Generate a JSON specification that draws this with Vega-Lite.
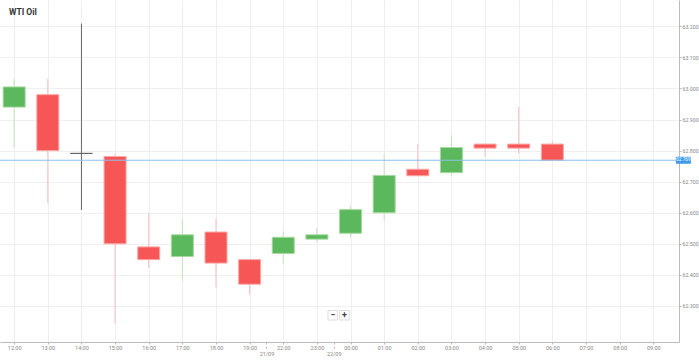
{
  "$schema": "https://vega.github.io/schema/vega-lite/v6.json",
  "width": 679,
  "height": 342,
  "autosize": {"type": "none"},
  "padding": {"left": 0, "top": 0, "right": 20, "bottom": 18},
  "background": "white",
  "config": {"view": {"stroke": null}, "font": "Roboto", "axis": {"labelOverlap": false, "labelFlush": false, "labelBound": false}},
  "title": {"text": "WTI Oil", "anchor": "start", "frame": "group", "orient": "top", "offset": -16, "dx": 9, "fontSize": 8.5, "fontWeight": "bold", "color": "#333", "font": "Roboto"},
  "datasets": {
    "candles": [
      {"i": 0, "t": "12:00", "open": 62.940, "high": 63.031, "low": 62.810, "close": 63.005},
      {"i": 1, "t": "13:00", "open": 62.980, "high": 63.031, "low": 62.631, "close": 62.800},
      {"i": 2, "t": "14:00", "open": 62.791, "high": 63.209, "low": 62.609, "close": 62.791},
      {"i": 3, "t": "15:00", "open": 62.781, "high": 62.790, "low": 62.243, "close": 62.500},
      {"i": 4, "t": "16:00", "open": 62.490, "high": 62.600, "low": 62.422, "close": 62.449},
      {"i": 5, "t": "17:00", "open": 62.459, "high": 62.581, "low": 62.381, "close": 62.529},
      {"i": 6, "t": "18:00", "open": 62.538, "high": 62.581, "low": 62.360, "close": 62.438},
      {"i": 7, "t": "19:00", "open": 62.449, "high": 62.449, "low": 62.336, "close": 62.370},
      {"i": 8, "t": "22:00", "open": 62.469, "high": 62.540, "low": 62.435, "close": 62.521},
      {"i": 9, "t": "23:00", "open": 62.515, "high": 62.550, "low": 62.505, "close": 62.529},
      {"i": 10, "t": "00:00", "open": 62.534, "high": 62.621, "low": 62.521, "close": 62.610},
      {"i": 11, "t": "01:00", "open": 62.600, "high": 62.790, "low": 62.575, "close": 62.720},
      {"i": 12, "t": "02:00", "open": 62.740, "high": 62.821, "low": 62.719, "close": 62.719},
      {"i": 13, "t": "03:00", "open": 62.729, "high": 62.850, "low": 62.719, "close": 62.810},
      {"i": 14, "t": "04:00", "open": 62.821, "high": 62.821, "low": 62.781, "close": 62.808},
      {"i": 15, "t": "05:00", "open": 62.821, "high": 62.941, "low": 62.790, "close": 62.808},
      {"i": 16, "t": "06:00", "open": 62.821, "high": 62.831, "low": 62.768, "close": 62.769}
    ],
    "last": [{"price": 62.769, "label": "62.769"}],
    "controls": [{"i": 9.47, "p": 62.27, "s": "−"}, {"i": 9.82, "p": 62.27, "s": "+"}]
  },
  "layer": [
    {
      "data": {"name": "candles"},
      "mark": {"type": "rule", "strokeWidth": 1},
      "encoding": {
        "x": {
          "field": "i", "type": "quantitative",
          "scale": {"domain": [-0.2724, 19.616], "nice": false, "zero": false},
          "axis": {
            "title": null,
            "tickCount": 100,
            "values": [0,1,2,3,4,5,6,7,7.5,8,9,9.5,10,11,12,13,14,15,16,17,18,19],
            "labelExpr": "datum.value == 7.5 ? '21/09' : datum.value == 9.5 ? '22/09' : ['12:00','13:00','14:00','15:00','16:00','17:00','18:00','19:00','22:00','23:00','00:00','01:00','02:00','03:00','04:00','05:00','06:00','07:00','08:00','09:00'][datum.value]",
            "grid": true,
            "gridColor": {"condition": {"test": "datum.value == 7.5 || datum.value == 9.5", "value": "rgba(0,0,0,0)"}, "value": "#efefef"},
            "domainColor": "#bbb",
            "tickColor": "#bbb",
            "tickSize": {"condition": {"test": "datum.value == 7.5 || datum.value == 9.5", "value": 8}, "value": 2},
            "tickDash": {"condition": {"test": "datum.value == 7.5 || datum.value == 9.5", "value": [2, 2]}, "value": []},
            "labelPadding": 1,
            "labelFontSize": 5.5,
            "labelColor": "#888",
            "labelOverlap": false,
            "labelFlush": false,
            "labelBound": false
          }
        },
        "y": {
          "field": "low", "type": "quantitative",
          "scale": {"domain": [62.2, 63.26875], "nice": false, "zero": false},
          "axis": {
            "title": null,
            "orient": "right",
            "tickCount": 100,
            "values": [62.3, 62.4, 62.5, 62.6, 62.7, 62.8, 62.9, 63.0, 63.1, 63.2],
            "format": ".3f",
            "grid": true,
            "gridColor": "#efefef",
            "domainColor": "#bbb",
            "tickColor": "#bbb",
            "tickSize": 2,
            "labelPadding": 1,
            "labelFontSize": 5.3,
            "labelColor": "#888",
            "labelOverlap": false,
            "labelFlush": false,
            "labelBound": false
          }
        },
        "y2": {"field": "high"},
        "color": {
          "condition": [
            {"test": "datum.close > datum.open", "value": "#c3e4bd"},
            {"test": "datum.close < datum.open", "value": "#f7bdbd"}
          ],
          "value": "#666666"
        }
      }
    },
    {
      "data": {"name": "candles"},
      "mark": {"type": "bar", "width": 22, "strokeWidth": 1},
      "encoding": {
        "x": {"field": "i", "type": "quantitative"},
        "y": {"field": "open", "type": "quantitative"},
        "y2": {"field": "close"},
        "fill": {
          "condition": [
            {"test": "datum.close > datum.open", "value": "#5cb85c"},
            {"test": "datum.close < datum.open", "value": "#f75656"}
          ],
          "value": "#666666"
        },
        "stroke": {
          "condition": [
            {"test": "datum.close > datum.open", "value": "#a6d99f"},
            {"test": "datum.close < datum.open", "value": "#fba6a6"}
          ],
          "value": "#666666"
        }
      }
    },
    {
      "data": {"name": "last"},
      "mark": {"type": "rule", "color": "#8fc0ea", "strokeWidth": 1},
      "encoding": {"y": {"field": "price", "type": "quantitative"}}
    },
    {
      "data": {"name": "last"},
      "mark": {"type": "bar", "color": "#3d9be9", "height": 7, "cornerRadius": 1},
      "encoding": {
        "x": {"datum": 19.67, "type": "quantitative"},
        "x2": {"datum": 20.12},
        "y": {"field": "price", "type": "quantitative"}
      }
    },
    {
      "data": {"name": "last"},
      "mark": {"type": "text", "color": "white", "fontSize": 4.8, "align": "center", "baseline": "middle"},
      "encoding": {
        "x": {"datum": 19.895, "type": "quantitative"},
        "y": {"field": "price", "type": "quantitative"},
        "text": {"field": "label"}
      }
    },
    {
      "data": {"name": "controls"},
      "mark": {"type": "point", "shape": "square", "size": 90, "filled": true, "fill": "white", "stroke": "#dddddd", "strokeWidth": 1, "opacity": 1},
      "encoding": {
        "x": {"field": "i", "type": "quantitative"},
        "y": {"field": "p", "type": "quantitative"}
      }
    },
    {
      "data": {"name": "controls"},
      "mark": {"type": "text", "color": "#444", "fontSize": 9, "fontWeight": "bold", "align": "center", "baseline": "middle"},
      "encoding": {
        "x": {"field": "i", "type": "quantitative"},
        "y": {"field": "p", "type": "quantitative"},
        "text": {"field": "s"}
      }
    }
  ]
}
